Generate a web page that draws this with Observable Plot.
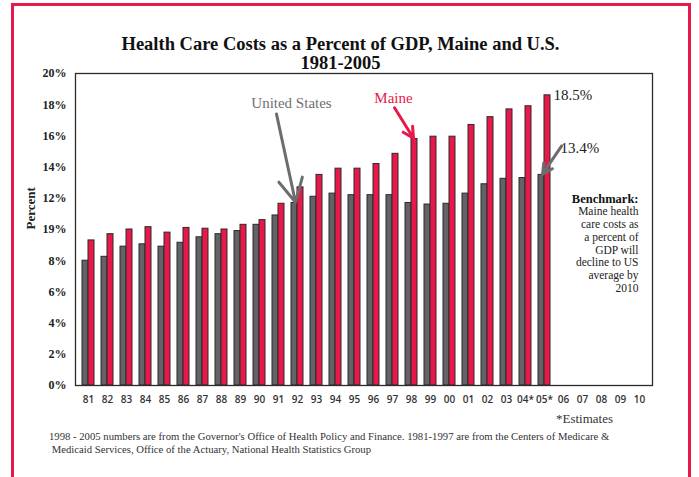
<!DOCTYPE html>
<html>
<head>
<meta charset="utf-8">
<script src="https://cdn.jsdelivr.net/npm/d3@7"></script>
<script src="https://cdn.jsdelivr.net/npm/@observablehq/plot@0.6"></script>
<style>
  html, body { margin: 0; padding: 0; background: #fff; }
  #wrap { position: relative; width: 699px; height: 477px; overflow: hidden; background: #fff; font-family: "Liberation Serif", "DejaVu Serif", serif; }
  #border { position: absolute; left: 11px; top: 3px; width: 680px; height: 520px; border: 3px solid #e8184a; box-sizing: border-box; }
  #title { position: absolute; left: 0; top: 35px; width: 681px; text-align: center; font-weight: bold; font-size: 18.5px; line-height: 19px; color: #111; }
  #chart { position: absolute; left: 0; top: 60px; }
  #est { position: absolute; left: 400px; width: 213px; top: 411px; text-align: right; font-family: "Liberation Serif", serif; font-size: 13px; color: #333; }
  #foot { position: absolute; left: 49px; top: 430px; width: 620px; font-family: "Liberation Serif", serif; font-size: 10.7px; line-height: 13px; color: #333; white-space: nowrap; }
</style>
</head>
<body>
<div id="wrap">
  <div id="border"></div>
  <div id="title">Health Care Costs as a Percent of GDP, Maine and U.S.<br>1981-2005</div>
  <div id="chart"></div>
  <div id="est">*Estimates</div>
  <div id="foot">1998 - 2005 numbers are from the Governor's Office of Health Policy and Finance. 1981-1997 are from the Centers of Medicare &amp;<br>&nbsp;Medicaid Services, Office of the Actuary, National Health Statistics Group</div>
</div>
<script>
const categories = ["81","82","83","84","85","86","87","88","89","90","91","92","93","94","95","96","97","98","99","00","01","02","03","04*","05*","06","07","08","09","10"];
const usValues = [8.0, 8.25, 8.9, 9.05, 8.9, 9.15, 9.5, 9.7, 9.9, 10.3, 10.9, 11.7, 12.1, 12.3, 12.2, 12.2, 12.2, 11.7, 11.6, 11.65, 12.3, 12.9, 13.25, 13.3, 13.5];
const maineValues = [9.3, 9.7, 10.0, 10.15, 9.8, 10.1, 10.05, 10.0, 10.3, 10.6, 11.65, 12.7, 13.5, 13.9, 13.9, 14.2, 14.85, 15.8, 15.95, 15.95, 16.7, 17.2, 17.7, 17.9, 18.6];
const yTicks = [0, 2, 4, 6, 8, 10, 12, 14, 16, 18, 20];
const yTickLabels = ["0%", "2%", "4%", "6%", "8%", "19%", "12%", "14%", "16%", "18%", "20%"];
const benchmarkLines = ["Maine health", "care costs as", "a percent of", "GDP will", "decline to US", "average by", "2010"];

const US = "#636367", ME = "#e8184a", STROKE = "#2a2a2a", SERIF = "Liberation Serif";
const c = (k) => () => k;

const plot = Plot.plot({
  width: 699,
  height: 360,
  marginTop: 13,
  marginBottom: 35,
  marginLeft: 75,
  marginRight: 47,
  style: { fontFamily: SERIF, background: "transparent", overflow: "visible" },
  x: { type: "band", domain: categories, paddingInner: 0.376, paddingOuter: 0.188, label: null },
  y: { domain: [0, 20], label: null },
  marks: [
    Plot.barY(usValues, { x: (d, i) => categories[i], y: d => d, fill: US, stroke: STROKE, strokeWidth: 1, insetRight: 6 }),
    Plot.barY(maineValues, { x: (d, i) => categories[i], y: d => d, fill: ME, stroke: STROKE, strokeWidth: 1, insetLeft: 6 }),
    Plot.frame({ stroke: "#2b2b2b", strokeWidth: 1.3 }),
    Plot.axisY({ ticks: yTicks, tickFormat: d => yTickLabels[yTicks.indexOf(d)], tickSize: 0, tickPadding: 9, fontSize: 12, fontWeight: "bold", fontFamily: SERIF, fill: "#222", label: null }),
    Plot.axisX({ tickSize: 0, tickPadding: 10, fontSize: 10, fontWeight: 600, fontFamily: "Open Sans", fill: "#333", label: null }),
    Plot.text(["Percent"], { frameAnchor: "left", dx: -45, rotate: -90, fontSize: 13, fontWeight: "bold", fontFamily: SERIF, fill: "#222" }),
    // United States annotation
    Plot.text(["United States"], { x: c("92"), y: c(18.1), dx: -6, fontSize: 15, fill: "#707073", fontFamily: SERIF }),
    Plot.arrow([0], { x1: c("91"), y1: c(17.4), x2: c("92"), y2: c(usValues[11] + 0.05), dx: -2, stroke: "#6d6d70", strokeWidth: 3, headLength: 13, headAngle: 55 }),
    // Maine annotation
    Plot.text(["Maine"], { x: c("97"), y: c(18.4), dx: 1, fontSize: 15, fill: ME, fontFamily: SERIF }),
    Plot.arrow([0], { x1: c("97"), y1: c(17.8), x2: c("98"), y2: c(maineValues[17] + 0.05), dx: 2, stroke: ME, strokeWidth: 3, headLength: 11, headAngle: 55 }),
    // value labels
    Plot.text(["18.5%"], { x: c("05*"), y: c(18.6), dx: 9, textAnchor: "start", fontSize: 15, fill: "#222", fontFamily: SERIF }),
    Plot.text(["13.4%"], { x: c("05*"), y: c(15.2), dx: 16, textAnchor: "start", fontSize: 15, fill: "#222", fontFamily: SERIF }),
    Plot.arrow([0], { x1: c("06"), y1: c(15.35), x2: c("05*"), y2: c(usValues[24] + 0.05), dx: -2, stroke: "#6d6d70", strokeWidth: 3, headLength: 10, headAngle: 55 }),
    // Benchmark
    Plot.text(["Benchmark:"], { x: c("10"), y: c(11.95), dx: -1, textAnchor: "end", fontSize: 12.5, fontWeight: "bold", fill: "#111", fontFamily: SERIF }),
    Plot.text([benchmarkLines.join("\n")], { x: c("10"), y: c(8.72), dx: -1, textAnchor: "end", lineAnchor: "middle", lineHeight: 1.12, fontSize: 11.5, fill: "#222", fontFamily: SERIF })
  ]
});
document.getElementById("chart").appendChild(plot);
</script>
</body>
</html>
